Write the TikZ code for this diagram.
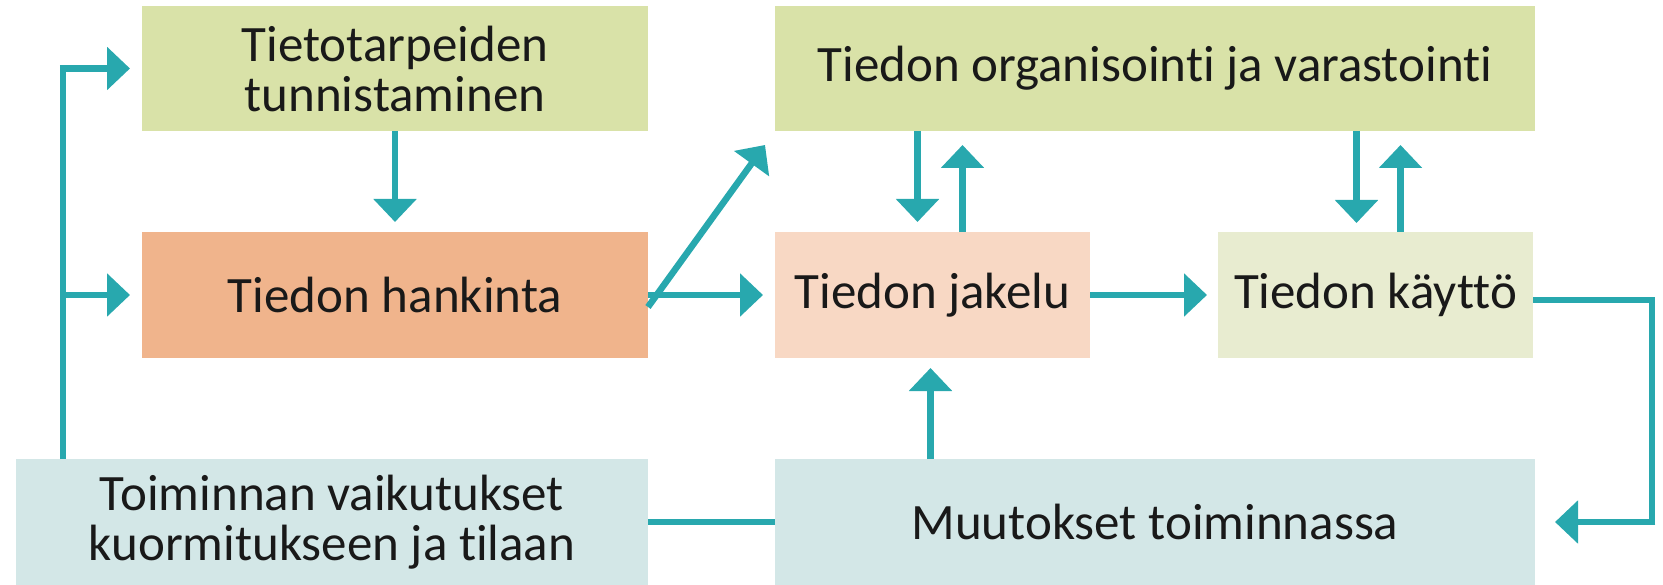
\documentclass[tikz,border=0pt]{standalone}
\usepackage{fontspec}
\setmainfont[RawFeature={-liga;-clig;-dlig}]{Carlito}
\usetikzlibrary{arrows.meta,calc}
\definecolor{tealc}{RGB}{40,168,174}
\definecolor{oliveb}{RGB}{217,226,168}
\definecolor{salmonb}{RGB}{240,180,140}
\definecolor{peachb}{RGB}{248,216,196}
\definecolor{paleb}{RGB}{232,236,208}
\definecolor{tealb}{RGB}{211,231,231}
\tikzset{
  box/.style={rectangle, anchor=north west, inner sep=0pt, outer sep=0pt,
    align=center, text=black!90, font=\fontsize{51}{50}\selectfont},
  conn/.style={draw=tealc, line width=6.5pt},
  arr/.style={conn, -{Triangle[length=23pt,width=42pt]}},
}
\begin{document}
\begin{tikzpicture}[x=1pt,y=-1pt]
\useasboundingbox (0,0) rectangle (1663,585);
\node[box, fill=oliveb, minimum width=506pt, minimum height=125pt] (tun) at (142,6) {Tietotarpeiden\\tunnistaminen};
\node[box, fill=salmonb, minimum width=506pt, minimum height=126pt] (han) at (142,232) {Tiedon hankinta};
\node[box, fill=oliveb, minimum width=760pt, minimum height=125pt] (org) at (775,6) {Tiedon organisointi ja varastointi};
\node[box, fill=peachb, minimum width=315pt, minimum height=126pt] (jak) at (775,232) {Tiedon jakelu};
\node[box, fill=paleb, minimum width=315pt, minimum height=126pt] (kay) at (1218,232) {Tiedon käyttö};
\node[box, fill=tealb, minimum width=632pt, minimum height=126pt] (toi) at (16,459) {Toiminnan vaikutukset\\kuormitukseen ja tilaan};
\node[box, fill=tealb, minimum width=760pt, minimum height=126pt] (muu) at (775,459) {Muutokset toiminnassa};
% left loop
\coordinate (lb) at ([xshift=47pt]toi.north west);
\coordinate (lt) at (lb |- tun.west);
\coordinate (lm) at (lb |- han.west);
\draw[conn] (lb) -- (lt);
\draw[arr, shorten >=12pt] ([xshift=-3.25pt]lt) -- (tun.west);
\draw[arr, shorten >=12pt] (lm) -- (han.west);
% tun -> han
\draw[arr, shorten >=10pt] (tun.south) -- (han.north);
% han -> jak
\draw[arr, shorten >=12pt] (han.east) -- (jak.west);
% han -> org diagonal
\coordinate (dg) at ([xshift=-10pt,yshift=-14pt]org.south west);
\draw[arr] ([yshift=-12pt]han.east) -- (dg);
% org <-> jak
\draw[arr, shorten >=10pt] ([xshift=-15pt]org.south -| jak.north) -- ([xshift=-15pt]jak.north);
\draw[arr, shorten >=14pt] ([xshift=30pt]jak.north) -- ([xshift=30pt]jak.north |- org.south);
% org <-> kay
\draw[arr, shorten >=9pt] ([xshift=-19pt]org.south -| kay.north) -- ([xshift=-19pt]kay.north);
\draw[arr, shorten >=14pt] ([xshift=25pt]kay.north) -- ([xshift=25pt]kay.north |- org.south);
% jak -> kay
\draw[arr, shorten >=11pt] (jak.east) -- (kay.west);
% kay -> muu loop
\coordinate (rt) at ([xshift=119pt,yshift=-5pt]kay.east);
\coordinate (rb) at (rt |- muu.east);
\draw[conn] ([yshift=-5pt]kay.east) -- (rt) -- ([yshift=3.25pt]rb);
\draw[arr, shorten >=20pt] ([xshift=3.25pt]rb) -- (muu.east);
% muu -> jak
\draw[arr, shorten >=10pt] ([xshift=-2pt]jak.south |- muu.north) -- ([xshift=-2pt]jak.south);
% muu -- toi
\draw[conn] (muu.west) -- (toi.east);
\end{tikzpicture}
\end{document}
